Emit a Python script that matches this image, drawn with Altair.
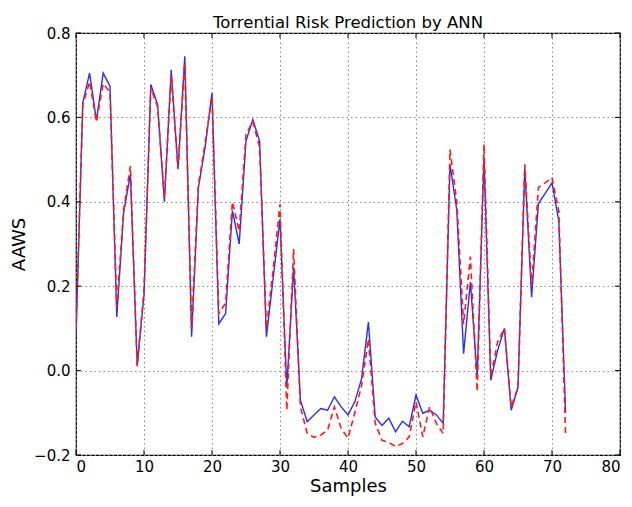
import altair as alt
import pandas as pd

samples = list(range(73))
actual = [0.08, 0.635, 0.705, 0.593, 0.705, 0.674, 0.127, 0.374, 0.465, 0.013,
          0.18, 0.678, 0.63, 0.40, 0.713, 0.477, 0.745, 0.08, 0.434, 0.53,
          0.658, 0.111, 0.135, 0.379, 0.30, 0.544, 0.595, 0.544, 0.08, 0.22,
          0.359, -0.04, 0.245, -0.07, -0.121, -0.105, -0.09, -0.094, -0.062, -0.086,
          -0.105, -0.074, -0.019, 0.115, -0.11, -0.13, -0.113, -0.145, -0.12, -0.133,
          -0.058, -0.101, -0.094, -0.105, -0.125, 0.489, 0.38, 0.04, 0.21, -0.015,
          0.505, -0.023, 0.048, 0.10, -0.094, -0.039, 0.481, 0.174, 0.396, 0.42,
          0.445, 0.355, -0.10]
predicted = [0.10, 0.63, 0.685, 0.59, 0.68, 0.66, 0.15, 0.38, 0.485, 0.01,
             0.19, 0.67, 0.625, 0.41, 0.70, 0.48, 0.73, 0.10, 0.44, 0.54,
             0.65, 0.135, 0.16, 0.40, 0.33, 0.56, 0.59, 0.53, 0.10, 0.24,
             0.394, -0.094, 0.288, -0.086, -0.149, -0.158, -0.153, -0.141, -0.086, -0.137,
             -0.16, -0.10, -0.035, 0.075, -0.125, -0.165, -0.17, -0.18, -0.173, -0.157,
             -0.074, -0.157, -0.086, -0.125, -0.149, 0.524, 0.40, 0.11, 0.27, -0.05,
             0.536, -0.015, 0.068, 0.10, -0.086, -0.04, 0.489, 0.20, 0.434, 0.445,
             0.457, 0.378, -0.153]

x_ticks = [0, 10, 20, 30, 40, 50, 60, 70, 80]
y_ticks = [-0.2, 0.0, 0.2, 0.4, 0.6, 0.8]

W, H = 544, 422

df = pd.DataFrame({
    "Samples": samples * 2,
    "AAWS": actual + predicted,
    "series": ["Actual"] * len(actual) + ["Predicted"] * len(predicted),
})
df_a = df[df.series == "Actual"]
df_p = df[df.series == "Predicted"]

xs = alt.Scale(domain=[0, 80], nice=False, zero=False)
ys = alt.Scale(domain=[-0.2, 0.8], nice=False, zero=False)

x_axis = alt.Axis(values=x_ticks, format="d", title="Samples", grid=True,
                  labelPadding=4, titlePadding=3)
y_axis = alt.Axis(values=y_ticks, format=".1f", title="AAWS", grid=True,
                  labelPadding=6, titlePadding=5)

blue = alt.Chart(df_a).mark_line(color="#2a2aff", strokeWidth=1.4, clip=True).encode(
    x=alt.X("Samples:Q", scale=xs, axis=x_axis),
    y=alt.Y("AAWS:Q", scale=ys, axis=y_axis),
)
red = alt.Chart(df_p).mark_line(color="#ff1a1a", strokeWidth=1.6, strokeDash=[6, 4], clip=True).encode(
    x=alt.X("Samples:Q", scale=xs),
    y=alt.Y("AAWS:Q", scale=ys),
)

xt = pd.DataFrame({"Samples": x_ticks})
yt = pd.DataFrame({"AAWS": y_ticks})
tick_style = dict(color="black", strokeWidth=1)
xb = alt.Chart(xt).mark_rule(**tick_style).encode(
    x=alt.X("Samples:Q", scale=xs), y=alt.value(H), y2=alt.value(H - 5))
xtp = alt.Chart(xt).mark_rule(**tick_style).encode(
    x=alt.X("Samples:Q", scale=xs), y=alt.value(0), y2=alt.value(5))
yl = alt.Chart(yt).mark_rule(**tick_style).encode(
    y=alt.Y("AAWS:Q", scale=ys), x=alt.value(0), x2=alt.value(5))
yr = alt.Chart(yt).mark_rule(**tick_style).encode(
    y=alt.Y("AAWS:Q", scale=ys), x=alt.value(W), x2=alt.value(W - 5))

chart = alt.layer(blue, red, xb, xtp, yl, yr).properties(
    width=W, height=H,
    background="white",
    title=alt.Title("Torrential Risk Prediction by ANN", fontSize=16.5, fontWeight="normal",
                    font="DejaVu Sans", color="black", offset=2, dy=7),
    autosize=alt.AutoSizeParams(type="none"),
    padding={"left": 68, "top": 25, "right": 4, "bottom": 44},
).configure_view(
    stroke="black", strokeWidth=1.2
).configure_axis(
    domain=False, ticks=False,
    gridColor="#888888", gridDash=[1.5, 3], gridWidth=1, gridOpacity=1,
    labelFont="DejaVu Sans", labelFontSize=15, labelColor="black",
    titleFont="DejaVu Sans", titleFontSize=18, titleFontWeight="normal", titleColor="black",
)

chart.save("out.html", embed_options={"renderer": "svg", "actions": False})
